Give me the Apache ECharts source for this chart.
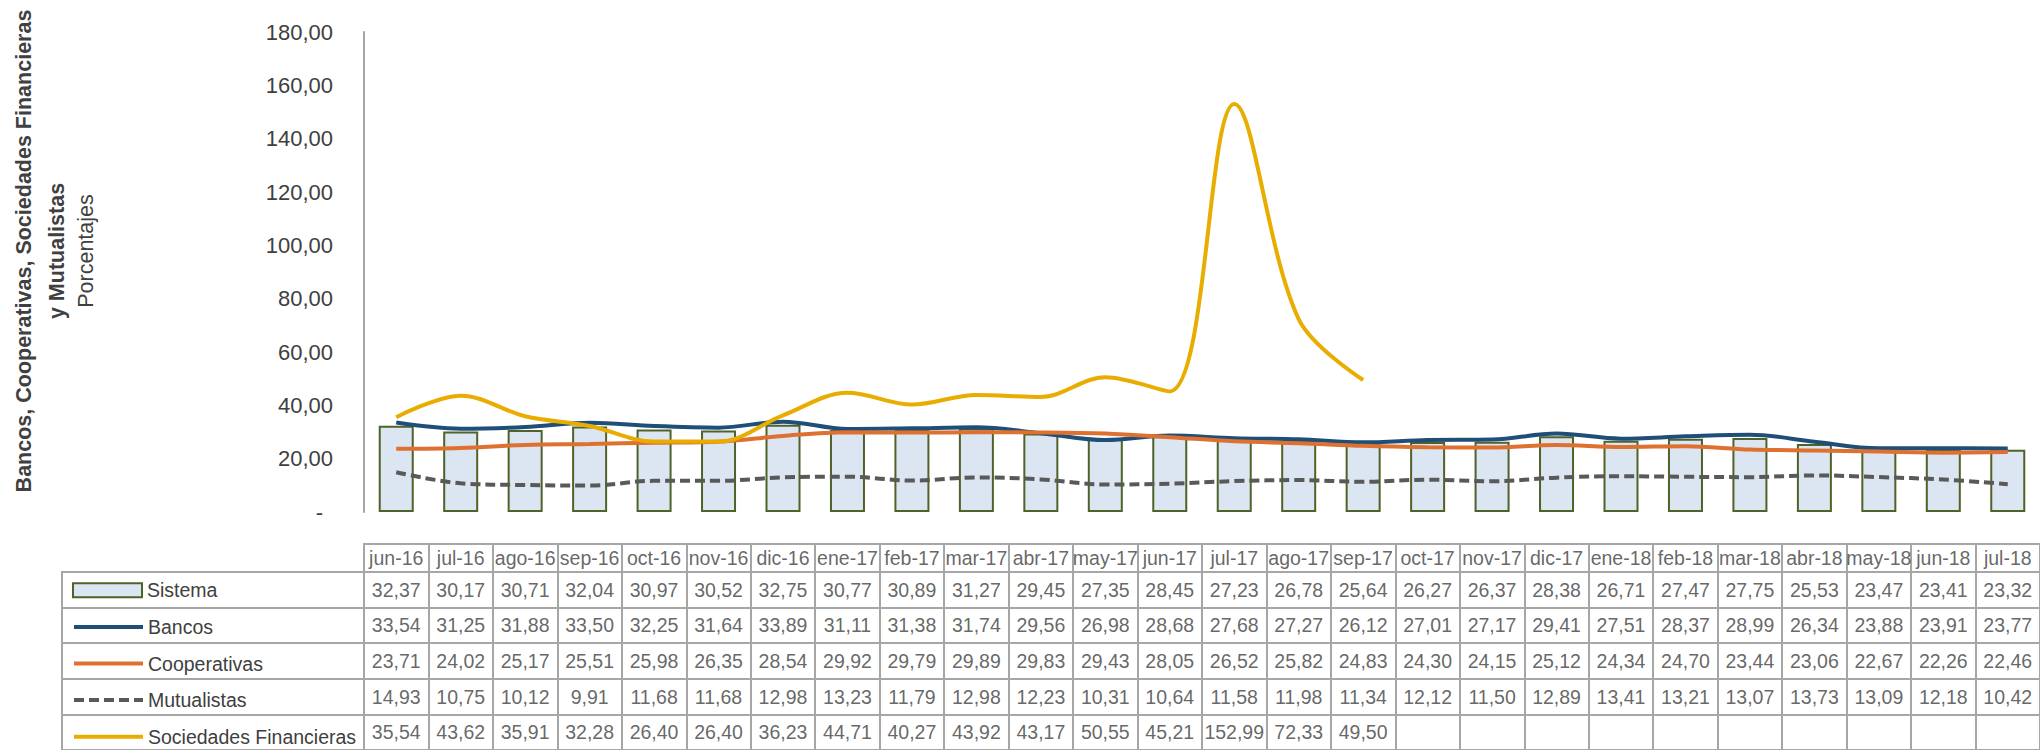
<!DOCTYPE html>
<html>
<head>
<meta charset="utf-8">
<script src="https://cdn.jsdelivr.net/npm/echarts@6/dist/echarts.min.js"></script>
<style>html,body{margin:0;padding:0;background:#fff}#c{width:2040px;height:750px}</style>
</head>
<body>
<div id="c"></div>
<script>
const categories = ['jun-16','jul-16','ago-16','sep-16','oct-16','nov-16','dic-16','ene-17','feb-17','mar-17','abr-17','may-17','jun-17','jul-17','ago-17','sep-17','oct-17','nov-17','dic-17','ene-18','feb-18','mar-18','abr-18','may-18','jun-18','jul-18'];
const sistema = [32.37,30.17,30.71,32.04,30.97,30.52,32.75,30.77,30.89,31.27,29.45,27.35,28.45,27.23,26.78,25.64,26.27,26.37,28.38,26.71,27.47,27.75,25.53,23.47,23.41,23.32];
const bancos = [33.54,31.25,31.88,33.50,32.25,31.64,33.89,31.11,31.38,31.74,29.56,26.98,28.68,27.68,27.27,26.12,27.01,27.17,29.41,27.51,28.37,28.99,26.34,23.88,23.91,23.77];
const cooperativas = [23.71,24.02,25.17,25.51,25.98,26.35,28.54,29.92,29.79,29.89,29.83,29.43,28.05,26.52,25.82,24.83,24.30,24.15,25.12,24.34,24.70,23.44,23.06,22.67,22.26,22.46];
const mutualistas = [14.93,10.75,10.12,9.91,11.68,11.68,12.98,13.23,11.79,12.98,12.23,10.31,10.64,11.58,11.98,11.34,12.12,11.50,12.89,13.41,13.21,13.07,13.73,13.09,12.18,10.42];
const sociedades = [35.54,43.62,35.91,32.28,26.40,26.40,36.23,44.71,40.27,43.92,43.17,50.55,45.21,152.99,72.33,49.50,null,null,null,null,null,null,null,null,null,null];
const rowNames = ['Sistema','Bancos','Cooperativas','Mutualistas','Sociedades Financieras'];
const yTitleLines = ['Bancos, Cooperativas, Sociedades Financieras','y Mutualistas','Porcentajes'];
const yMin = 0, yMax = 180, yStep = 20;

const SANS = "'Liberation Sans',Arial,sans-serif";
const TXT = '#404040';
const GRIDC = '#A6A6A6';
const colors = {Sistema:'#DCE6F2', Bancos:'#1F4E79', Cooperativas:'#DE7030', Mutualistas:'#595959', 'Sociedades Financieras':'#E8AD00'};
const dashes = [10,5];
const rowsData = [sistema, bancos, cooperativas, mutualistas, sociedades];
const fmt = v => v == null ? '' : v.toFixed(2).replace('.', ',');

const COLW = 64.65, LEFT = 364, NC = categories.length, TW = COLW * NC;
const ROWH = 36.6, TTOP = 572, HTOP = 544;
const TFS = 19.5;

const chart = echarts.init(document.getElementById('c'), null, {renderer:'svg', width:2040, height:750});

const lineSeries = (name, data, extra) => Object.assign({
  name, type:'line', data, xAxisIndex:0, yAxisIndex:0, smooth:0.35, symbol:'none', connectNulls:false,
  lineStyle:{color:colors[name], width:4}, itemStyle:{color:colors[name]}, z:3
}, extra || {});

const series = [
  {name:'Sistema', type:'bar', data:sistema, xAxisIndex:0, yAxisIndex:0, barWidth:35,
   itemStyle:{color:colors.Sistema, borderColor:'#4F6228', borderWidth:2}, z:2},
  lineSeries('Bancos', bancos),
  lineSeries('Cooperativas', cooperativas),
  lineSeries('Mutualistas', mutualistas, {lineStyle:{color:colors.Mutualistas, width:4, type:dashes}}),
  lineSeries('Sociedades Financieras', sociedades)
];

// header cells
series.push({
  type:'scatter', xAxisIndex:1, yAxisIndex:1, symbolSize:1, itemStyle:{color:'rgba(0,0,0,0)'}, silent:true,
  data: categories.map((c,i)=>[i,0]),
  label:{show:true, position:'inside', formatter:p=>categories[p.dataIndex], fontFamily:SANS, fontSize:TFS, color:TXT}
});
// data cells
rowsData.forEach((arr,r)=>{
  series.push({
    type:'scatter', xAxisIndex:2, yAxisIndex:2, symbolSize:1, itemStyle:{color:'rgba(0,0,0,0)'}, silent:true,
    data: arr.map((v,i)=>[i, r, v == null ? 0 : v]),
    label:{show:true, position:'inside', formatter:p=>fmt(arr[p.dataIndex]), fontFamily:SANS, fontSize:TFS, color:TXT}
  });
});

const legends = rowNames.map((n,k)=>{
  const l = {
    data:[n], orient:'vertical', left:72, top: TTOP + ROWH*(k+0.5) - 12, padding:0,
    itemWidth:69, itemHeight:14, selectedMode:false,
    textStyle:{fontFamily:SANS, fontSize:TFS, lineHeight:24, color:TXT}
  };
  if (k === 0) {
    l.icon = 'rect';
  } else {
    l.itemStyle = {opacity:0, color:'rgba(0,0,0,0)', borderWidth:0};
    l.lineStyle = {color:colors[n], width:4, type: n === 'Mutualistas' ? dashes : 'solid', opacity:1};
  }
  return l;
});

const option = {
  animation:false,
  backgroundColor:'#fff',
  legend: legends,
  grid:[
    {left:LEFT, top:32, width:TW, height:480, show:false},
    {left:LEFT, top:HTOP, width:TW, height:TTOP-HTOP, show:true, borderColor:GRIDC, borderWidth:2},
    {left:LEFT, top:TTOP, width:TW, height:ROWH*5, show:true, borderColor:GRIDC, borderWidth:2},
    {left:62, top:TTOP, width:LEFT-62, height:ROWH*5, show:true, borderColor:GRIDC, borderWidth:2}
  ],
  xAxis:[
    {type:'category', gridIndex:0, data:categories, show:false},
    {type:'category', gridIndex:1, data:categories, axisLine:{show:false}, axisTick:{show:false}, axisLabel:{show:false},
     splitLine:{show:true, lineStyle:{color:GRIDC, width:2}}},
    {type:'category', gridIndex:2, data:categories, axisLine:{show:false}, axisTick:{show:false}, axisLabel:{show:false},
     splitLine:{show:true, lineStyle:{color:GRIDC, width:2}}},
    {type:'category', gridIndex:3, data:[''], show:false}
  ],
  yAxis:[
    {type:'value', gridIndex:0, min:yMin, max:yMax, interval:yStep,
     axisLine:{show:true, lineStyle:{color:GRIDC, width:2}}, axisTick:{show:false}, splitLine:{show:false},
     axisLabel:{margin:31, fontFamily:SANS, fontSize:22, color:TXT,
       formatter:v => v === 0 ? '{d|-}' : fmt(v), rich:{d:{fontFamily:SANS, fontSize:22, color:TXT, padding:[0,10,0,0]}}}},
    {type:'category', gridIndex:1, data:['h'], show:false},
    {type:'category', gridIndex:2, data:rowNames, inverse:true, axisLine:{show:false}, axisTick:{show:false}, axisLabel:{show:false},
     splitLine:{show:true, lineStyle:{color:GRIDC, width:2}}},
    {type:'category', gridIndex:3, data:rowNames, inverse:true, axisLine:{show:false}, axisTick:{show:false}, axisLabel:{show:false},
     splitLine:{show:true, lineStyle:{color:GRIDC, width:2}}}
  ],
  graphic:[
    {type:'text', x:24, y:251, rotation:Math.PI/2, style:{text:yTitleLines[0], font:'bold 21.5px ' + SANS, fill:TXT, textAlign:'center', textVerticalAlign:'middle'}},
    {type:'text', x:57, y:251, rotation:Math.PI/2, style:{text:yTitleLines[1], font:'bold 21.5px ' + SANS, fill:TXT, textAlign:'center', textVerticalAlign:'middle'}},
    {type:'text', x:86, y:251, rotation:Math.PI/2, style:{text:yTitleLines[2], font:'21.5px ' + SANS, fill:TXT, textAlign:'center', textVerticalAlign:'middle'}}
  ],
  series
};
chart.setOption(option);
</script>
</body>
</html>
